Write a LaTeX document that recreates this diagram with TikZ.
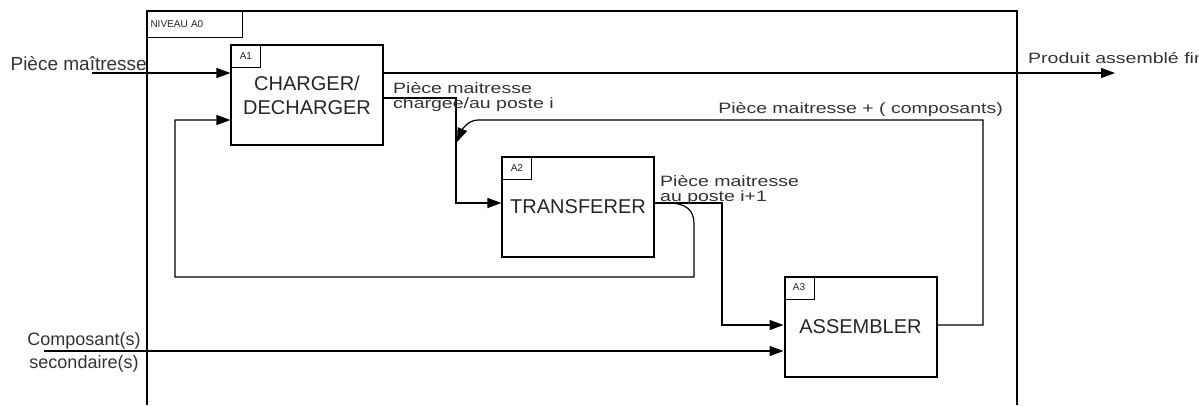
\documentclass[tikz,border=0pt]{standalone}
\usepackage{fontspec}
\setmainfont{Liberation Sans}
\newfontfamily\widefont[FakeStretch=1.3]{Liberation Sans}
\usetikzlibrary{arrows.meta}

\tikzset{
  fct/.style={draw, line width=1.2pt, minimum width=152pt, minimum height=100pt,
    align=center, text=black!85, font=\fontsize{20}{24}\selectfont},
  tag/.style={draw, line width=1pt, anchor=north west, minimum width=30pt,
    minimum height=23pt, inner sep=1pt, text=black!85, font=\fontsize{10}{12}\selectfont},
  flow/.style={line width=1.2pt},
  into/.style={flow, -{Triangle[length=14pt,width=10pt]}},
  lbl/.style={inner sep=0pt, text=black!80, font=\fontsize{19}{23}\selectfont},
  wlbl/.style={inner sep=0pt, align=left, text=black!80, font=\widefont\fontsize{15}{15}\selectfont},
}

\begin{document}
\begin{tikzpicture}[x=1pt,y=1pt,yscale=-1]
\useasboundingbox (0,0) rectangle (1199,405);

% cadre du niveau A0
\draw[flow] (147,405) -- (147,11) -- (1017,11) -- (1017,405);
\node[tag, minimum height=26pt, text width=89pt, align=left, inner sep=3pt] (niv) at (147,11) {NIVEAU A0};

% fonctions
\node[fct] (a1) at (307,95) {CHARGER/\\DECHARGER};
\node[fct] (a2) at (578,207) {TRANSFERER};
\node[fct, line width=2pt] (a3) at (860.5,326.5) {ASSEMBLER};
\node[tag] (t1) at (a1.north west) {A1};
\node[tag] (t2) at (a2.north west) {A2};
\node[tag] (t3) at (a3.north west) {A3};

% points de passage
\coordinate (inPM) at (92,73);
\coordinate (outPF) at (1115,73);
\coordinate (inCS) at (44,351);
\coordinate (c1) at (456,98);
\coordinate (c2) at (456,203);
\coordinate (c3) at (722,203);
\coordinate (c4) at (722,325);
\coordinate (r1) at (668,203);
\coordinate (r2) at (694,224);
\coordinate (r3) at (694,277);
\coordinate (r4) at (175,277);
\coordinate (r5) at (175,120);
\coordinate (f1) at (983,325);
\coordinate (f2) at (983,120);
\coordinate (f3) at (478,120);
\coordinate (f4) at (457,142);

% flux
\draw[into] (inPM) -- (a1.west |- inPM);
\draw[into] (a1.east |- outPF) -- (outPF);
\draw[into] (a1.east |- c1) -- (c1) -- (c2) -- (a2.west |- c2);
\draw[into] (a2.east |- c3) -- (c3) -- (c4) -- (a3.west |- c4);
\draw[into] (r1) .. controls (686,203) and (694,210) .. (r2) -- (r3) -- (r4) -- (r5) -- (a1.west |- r5);
\draw[into] (a3.east |- f1) -- (f1) -- (f2) -- (f3) .. controls (468,120) and (462,130) .. (f4);
\draw[into] (inCS) -- (a3.west |- inCS);

% Text Node
\node[lbl, anchor=base east] (tPM) at (147,70) {Pièce maîtresse};
% Text Node
\node[lbl, align=center, anchor=north, font=\fontsize{18}{23}\selectfont] (tCS) at (84,332) {Composant(s)\\secondaire(s)};
% Text Node
\node[wlbl, anchor=north west] (tPMc) at (393,82) {Pièce maitresse\\chargee/au poste i};
% Text Node
\node[wlbl, anchor=north west] (tPMp) at (660,175) {Pièce maitresse\\au poste i+1};
% Text Node
\node[wlbl, anchor=base east] (tPMC) at (1003,113) {Pièce maitresse + ( composants)};
% Text Node
\node[wlbl, anchor=base west] (tPAF) at (1028,63) {Produit assemblé fini};
\end{tikzpicture}
\end{document}
